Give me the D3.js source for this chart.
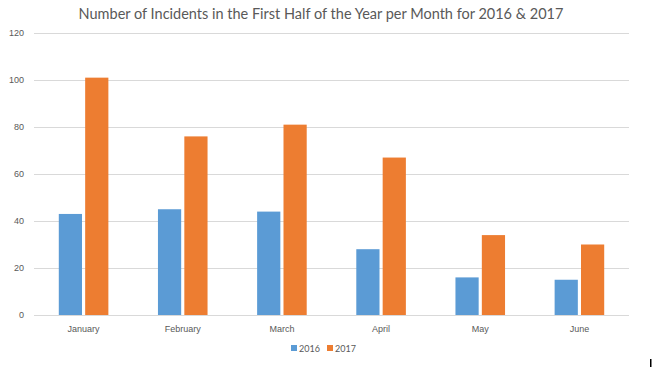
<!DOCTYPE html>
<html>
<head>
<meta charset="utf-8">
<script src="https://cdn.jsdelivr.net/npm/d3@7"></script>
<style>
  body { margin: 0; background: #fff; }
  svg { display: block; font-family: Lato, "Open Sans", sans-serif; }
  .grid line { stroke: #d9d9d9; stroke-width: 1; }
  .axis text { fill: #595959; font-size: 9px; }
</style>
</head>
<body>
<div id="chart"></div>
<script>
var months = ["January", "February", "March", "April", "May", "June"];
var series = ["2016", "2017"];
var values2016 = [43, 45, 44, 28, 16, 15];
var values2017 = [101, 76, 81, 67, 34, 30];
var yTicks = [0, 20, 40, 60, 80, 100, 120];
var colors = ["#5b9bd5", "#ed7d31"];

var margin = {top: 33, right: 27, bottom: 52, left: 34},
    width = 656 - margin.left - margin.right,
    height = 367 - margin.top - margin.bottom;

var svg = d3.select("#chart")
    .append("svg")
        .attr("width", 656)
        .attr("height", 367);

// title
svg.append("text")
    .attr("x", 321)
    .attr("y", 19)
    .attr("text-anchor", "middle")
    .attr("fill", "#595959")
    .style("font-size", "14.5px")
    .text("Number of Incidents in the First Half of the Year per Month for 2016 & 2017");

var g = svg.append("g").attr("transform", "translate(" + margin.left + "," + margin.top + ")");

var x = d3.scaleBand().domain(months).range([0, width]).paddingInner(0.5).paddingOuter(0.25);
var x1 = d3.scaleBand().domain(series).range([0, x.bandwidth()]).paddingInner(0.12);
var y = d3.scaleLinear().domain([0, 120]).range([height, 0]);

// gridlines
g.append("g")
    .attr("class", "grid")
    .selectAll("line")
    .data(yTicks)
    .enter().append("line")
        .attr("x1", 0)
        .attr("x2", width)
        .attr("y1", function(d) { return Math.round(y(d)) + 0.5; })
        .attr("y2", function(d) { return Math.round(y(d)) + 0.5; });

// y axis labels
var yAxis = d3.axisLeft(y).tickValues(yTicks).tickSize(0).tickPadding(10);
g.append("g")
    .attr("class", "axis")
    .call(yAxis)
    .call(function(s) { s.select(".domain").remove(); });

// x axis labels
var xAxis = d3.axisBottom(x).tickSize(0).tickPadding(11);
g.append("g")
    .attr("class", "axis")
    .attr("transform", "translate(0," + height + ")")
    .call(xAxis)
    .call(function(s) { s.select(".domain").remove(); });

var rows = months.map(function(m, i) {
  return {month: m, vals: [values2016[i], values2017[i]]};
});

var groups = g.selectAll(".month")
    .data(rows)
    .enter().append("g")
        .attr("transform", function(d) { return "translate(" + x(d.month) + ",0)"; });

groups.selectAll("rect")
    .data(function(d) { return d.vals.map(function(v, i) { return {key: series[i], value: v, i: i}; }); })
    .enter().append("rect")
        .attr("x", function(d) { return x1(d.key); })
        .attr("y", function(d) { return y(d.value); })
        .attr("width", x1.bandwidth())
        .attr("height", function(d) { return height - y(d.value); })
        .attr("fill", function(d) { return colors[d.i]; });

// legend
var legend = svg.append("g").attr("transform", "translate(291,343)");
var item = legend.selectAll("g")
    .data(series)
    .enter().append("g")
        .attr("transform", function(d, i) { return "translate(" + (i * 36) + ",0)"; });
item.append("rect")
    .attr("width", 6)
    .attr("height", 6)
    .attr("y", 2)
    .attr("fill", function(d, i) { return colors[i]; });
item.append("text")
    .attr("x", 8)
    .attr("y", 8.5)
    .attr("fill", "#595959")
    .style("font-size", "9px")
    .text(function(d) { return d; });

// stray mark at bottom right of the screenshot
svg.append("rect")
    .attr("x", 650)
    .attr("y", 359)
    .attr("width", 1.5)
    .attr("height", 8)
    .attr("fill", "#000");
</script>
</body>
</html>
